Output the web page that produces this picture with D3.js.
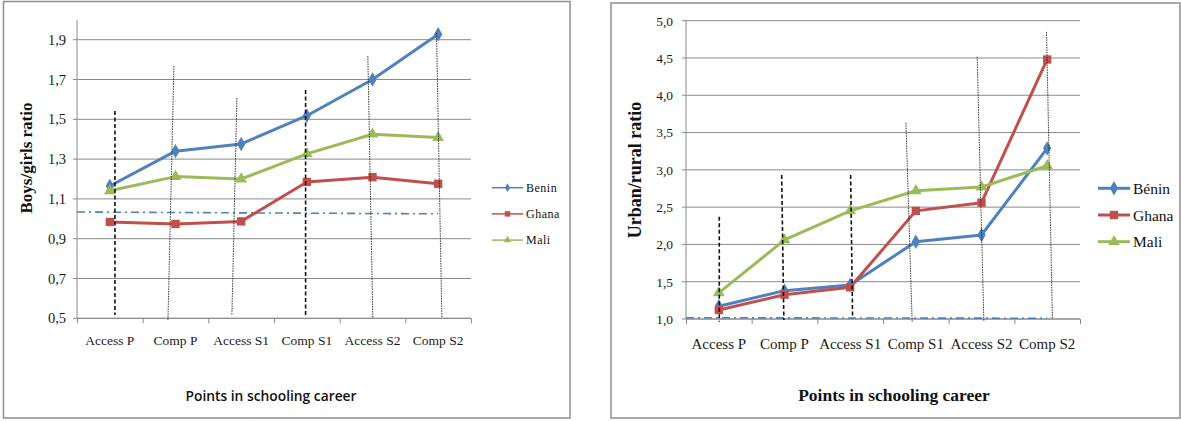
<!DOCTYPE html>
<html><head><meta charset="utf-8">
<script src="https://cdn.jsdelivr.net/npm/d3@7"></script>
<style>
html,body{margin:0;padding:0;background:#fff;}
svg{display:block;}
</style></head>
<body>
<svg id="chart" width="1181" height="421"></svg>
<script>
// ---------- DATA ----------
const categories = ["Access P", "Comp P", "Access S1", "Comp S1", "Access S2", "Comp S2"];
const seriesNames = ["Benin", "Ghana", "Mali"];
const seriesNamesRight = ["Bénin", "Ghana", "Mali"];

// Left chart: boys/girls ratio
const genderTicks = [0.5, 0.7, 0.9, 1.1, 1.3, 1.5, 1.7, 1.9];
const genderBenin = [1.165, 1.34, 1.376, 1.518, 1.70, 1.927];
const genderGhana = [0.984, 0.974, 0.987, 1.185, 1.209, 1.176];
const genderMali  = [1.141, 1.212, 1.20, 1.326, 1.425, 1.408];
// dash-dot reference line (value at axis start, value at last category)
const genderRef = [1.034, 1.025];
// vertical annotation lines: [catTop, valueTop, catBottom, valueBottom, significant]
const genderVLines = [
  [0.078, 1.542, 0.078, 0.517, true],
  [0.976, 1.768, 0.885, 0.490, false],
  [1.935, 1.607, 1.859, 0.517, false],
  [2.981, 1.647, 2.981, 0.513, true],
  [3.929, 1.818, 4.005, 0.503, false],
  [4.975, 1.934, 5.056, 0.507, false]
];

// Right chart: urban/rural ratio
const urbanTicks = [1.0, 1.5, 2.0, 2.5, 3.0, 3.5, 4.0, 4.5, 5.0];
const urbanBenin = [1.17, 1.38, 1.456, 2.036, 2.126, 3.288];
const urbanGhana = [1.12, 1.326, 1.425, 2.45, 2.56, 4.48];
const urbanMali  = [1.35, 2.06, 2.45, 2.72, 2.77, 3.055];
const urbanRef = [1.017, 1.010];
const urbanVLines = [
  [0.007, 2.371, 0.007, 0.964, true],
  [0.957, 2.930, 0.990, 0.987, true],
  [2.007, 2.930, 2.037, 1.010, true],
  [2.849, 3.630, 2.944, 0.964, false],
  [3.934, 4.516, 4.036, 0.964, false],
  [4.990, 4.850, 5.080, 1.010, false]
];

// ---------- DRAWING ----------
const colors = ["#4F81BD", "#C0504D", "#9BBB59"];
const symbols = [d3.symbolDiamond, d3.symbolSquare, d3.symbolTriangle];
const serif = "'Liberation Serif', 'Times New Roman', serif";
const svg = d3.select("#chart");
const fmt = v => d3.format(".1f")(v).replace(".", ",");

function drawChart(o) {
  const g = svg.append("g");
  // frame
  g.append("rect").attr("x", o.frame[0]).attr("y", o.frame[1])
    .attr("width", o.frame[2]).attr("height", o.frame[3])
    .attr("fill", "#fff").attr("stroke", "#8e8e8e").attr("stroke-width", 1.5);

  const x = d3.scaleLinear().domain([-0.5, categories.length - 0.5]).range([o.left, o.right]);
  const y = d3.scaleLinear().domain(o.domain).range([o.bottom, o.top]);

  // gridlines
  g.selectAll(".grid").data(o.ticks).join("line")
    .attr("x1", o.left - 4).attr("x2", o.right)
    .attr("y1", d => y(d)).attr("y2", d => y(d))
    .attr("stroke", "#8a8a8a").attr("stroke-width", 1);

  // y axis
  const yAxis = d3.axisLeft(y).tickValues(o.ticks).tickFormat(fmt).tickSize(0).tickPadding(o.yPad);
  const ya = g.append("g").attr("transform", `translate(${o.left},0)`).call(yAxis)
    .attr("font-family", serif).attr("font-size", o.yFont);
  ya.select(".domain").attr("stroke", "#8a8a8a").attr("d", `M0,${o.bottom}V${y(o.domain[1])}`);
  ya.selectAll("text").style("font-family", serif).style("font-size", o.yFont + "px").attr("fill", "#1a1a1a");

  // x axis with boundary ticks
  const xb = d3.range(categories.length + 1).map(i => i - 0.5);
  const xAxis = d3.axisBottom(x).tickValues(xb).tickSize(5).tickFormat("");
  const xa = g.append("g").attr("transform", `translate(0,${o.bottom})`).call(xAxis);
  xa.select(".domain").attr("stroke", "#8a8a8a").attr("d", `M${o.left},0H${o.right}`);
  xa.selectAll(".tick line").attr("stroke", "#8a8a8a");
  g.selectAll(".xlab").data(categories).join("text")
    .attr("x", (d, i) => x(i)).attr("y", o.bottom + o.xLabDy)
    .attr("text-anchor", "middle")
    .style("font-family", serif)
    .style("font-size", o.xFont + "px").attr("fill", "#1a1a1a")
    .text(d => d);

  // reference dash-dot line
  g.append("line")
    .attr("x1", x(-0.5)).attr("y1", y(o.ref[0]))
    .attr("x2", x(categories.length - 1)).attr("y2", y(o.ref[1]))
    .attr("stroke", "#4F81BD").attr("stroke-width", 1.6)
    .attr("stroke-dasharray", "8,4,2,4");

  // series
  const line = d3.line().x((d, i) => x(i)).y(d => y(d));
  o.series.forEach((s, k) => {
    g.append("path").attr("d", line(s)).attr("fill", "none")
      .attr("stroke", colors[k]).attr("stroke-width", 3).attr("stroke-linejoin", "round");
  });
  o.series.forEach((s, k) => {
    g.selectAll(null).data(s).join("path")
      .attr("transform", (d, i) => `translate(${x(i)},${y(d)})`)
      .attr("d", d3.symbol().type(symbols[k]).size(k === 1 ? 70 : 60))
      .attr("fill", colors[k]);
  });

  // vertical annotation lines
  g.selectAll(".vl").data(o.vlines).join("line")
    .attr("x1", d => x(d[0])).attr("y1", d => y(d[1]))
    .attr("x2", d => x(d[2])).attr("y2", d => y(d[3]))
    .attr("stroke", d => d[4] ? "#111" : "#222")
    .attr("stroke-width", d => d[4] ? 1.6 : 0.9)
    .attr("stroke-dasharray", d => d[4] ? "4,2.5" : "1.5,1");

  // y title
  g.append("text")
    .attr("transform", `translate(${o.yTitle[0]},${o.yTitle[1]}) rotate(-90)`)
    .attr("text-anchor", "middle").attr("dominant-baseline", "central")
    .style("font-family", serif)
    .attr("font-weight", "bold").style("font-size", o.yTitleFont + "px").attr("fill", "#111")
    .text(o.yTitleText);

  // x title
  g.append("text")
    .attr("x", o.xTitle[0]).attr("y", o.xTitle[1])
    .attr("text-anchor", "middle")
    .style("font-family", o.xTitleFamily)
    .attr("font-weight", o.xTitleWeight).style("font-size", o.xTitleFont + "px").attr("fill", "#111")
    .text("Points in schooling career");

  // legend
  o.legendNames.forEach((name, k) => {
    const ly = o.legend[1] + k * o.legend[2];
    const lx = o.legend[0];
    g.append("line").attr("x1", lx).attr("x2", lx + o.legendLen)
      .attr("y1", ly).attr("y2", ly).attr("stroke", colors[k]).attr("stroke-width", o.legendStroke);
    g.append("path").attr("transform", `translate(${lx + o.legendLen / 2},${ly})`)
      .attr("d", d3.symbol().type(symbols[k]).size(o.legendSym[k])).attr("fill", colors[k]);
    g.append("text").attr("x", lx + o.legendLen + 3).attr("y", ly)
      .attr("dominant-baseline", "central")
      .style("font-family", serif)
      .style("font-size", o.legendFont + "px").attr("letter-spacing", o.legendSpacing).attr("fill", "#111")
      .text(name);
  });
}

drawChart({
  frame: [3.5, 1.5, 566.5, 416.5],
  left: 77, right: 471, top: 19.8, bottom: 318.3,
  domain: [0.5, 2.0], ticks: genderTicks,
  yPad: 11, yFont: 14.5, xFont: 13.5, xLabDy: 27,
  ref: genderRef,
  series: [genderBenin, genderGhana, genderMali],
  vlines: genderVLines,
  yTitle: [26, 158], yTitleText: "Boys/girls ratio", yTitleFont: 17,
  xTitle: [271, 401], xTitleFamily: "'Open Sans', 'Noto Sans', sans-serif", xTitleWeight: 600, xTitleFont: 13.8,
  legendNames: seriesNames, legend: [492, 187.7, 26.2], legendLen: 31, legendStroke: 1.5,
  legendSym: [22, 30, 24], legendFont: 12, legendSpacing: 0.5
});

drawChart({
  frame: [611, 3, 569, 415],
  left: 686, right: 1080, top: 20.7, bottom: 319,
  domain: [1.0, 5.0], ticks: urbanTicks,
  yPad: 13, yFont: 13.5, xFont: 15, xLabDy: 30,
  ref: urbanRef,
  series: [urbanBenin, urbanGhana, urbanMali],
  vlines: urbanVLines,
  yTitle: [635, 170], yTitleText: "Urban/rural ratio", yTitleFont: 18,
  xTitle: [894, 401], xTitleFamily: serif, xTitleWeight: "bold", xTitleFont: 17.5,
  legendNames: seriesNamesRight, legend: [1098, 188.3, 26.7], legendLen: 32, legendStroke: 3,
  legendSym: [60, 70, 60], legendFont: 15.5, legendSpacing: 0
});
</script>
</body></html>
